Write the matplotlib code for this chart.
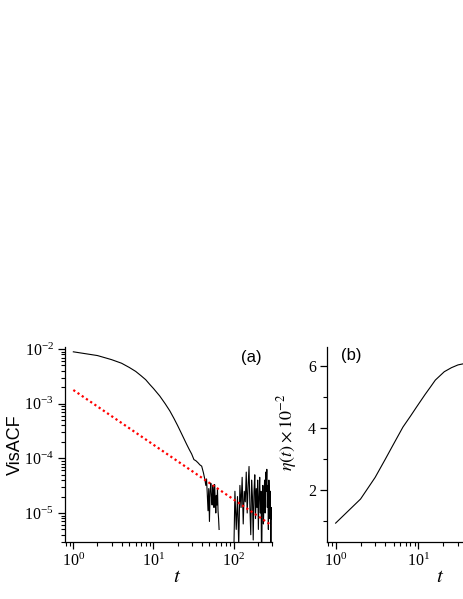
import numpy as np
import matplotlib
matplotlib.use("Agg")
import matplotlib.pyplot as plt
from matplotlib.ticker import LogLocator, FuncFormatter, MultipleLocator, NullFormatter

plt.rcParams['font.family'] = ['Liberation Serif', 'DejaVu Serif']
plt.rcParams['mathtext.fontset'] = 'stix'

# panel (a): VisACF, smooth decay then noise (gap = negative values)
t_acf = [1, 2, 3, 4, 5, 6, 7, 8, 9, 10, 12, 14, 16, 18, 20, 22, 24, 26, 28, 30,
         32, 34, 36, 38, 40, 42, 44,
         45, 46, 47, 48, 49, 50, 51, 52, 53, 54, 55, 56, 57, 58, 59, 60, 61, 62,
         63, 64, 65, 66, 67,
         100, 104, 108, 112, 116, 120, 124, 128, 132, 136, 140, 144, 148, 152,
         156, 160, 164, 168, 172, 176, 180, 184, 188, 192, 196, 200, 204, 208,
         212, 216, 220, 224, 228, 232, 236, 240, 244, 248, 252, 256, 260, 264,
         268, 272, 276, 280, 284, 288, 292, 296, 300]
acf = [8.9e-3, 7.6e-3, 6.4e-3, 5.5e-3, 4.6e-3, 3.9e-3, 3.25e-3, 2.75e-3, 2.25e-3,
       1.9e-3, 1.38e-3, 1.0e-3, 7.4e-4, 5.4e-4, 4.0e-4, 3.0e-4, 2.3e-4, 1.8e-4,
       1.45e-4, 1.2e-4, 9.5e-5, 9.0e-5, 8.3e-5, 7.6e-5, 7.2e-5, 5.5e-5, 4.0e-5,
       3.2e-5, 4.2e-5, 2.2e-5, 1.1e-5, 2.8e-5, 7.0e-6, 2.5e-5, 3.5e-5, 2.0e-5,
       1.4e-5, 3.2e-5, 2.4e-5, 1.26e-5, 3.3e-5, 1.8e-5, 1.0e-5, 2.1e-5, 1.4e-5,
       2.8e-5, 1.1e-5, 7.9e-6, 5.0e-6, np.nan,
       1.0e-6, 2.5e-5, 5.0e-6, 2.0e-5, 2.5e-6, 3.2e-5, 1.26e-5, 4.5e-5, 6.3e-6,
       2.5e-5, 1.6e-5, 5.6e-5, 1.0e-5, 3.2e-5, 7.1e-5, 1.26e-5, 4.0e-6, 4.0e-5,
       2.0e-5, 3.2e-6, 2.5e-5, 5.0e-5, 7.9e-6, 2.8e-5, 1.26e-5, 4.0e-5, 5.0e-6,
       2.0e-5, 4.5e-5, 1.0e-5, 2.5e-5, 1.0e-6, 1.6e-5, 3.2e-5, 6.3e-6, 1.8e-5,
       4.0e-5, 1.0e-5, 5.6e-5, 2.5e-5, 6.3e-5, 1.26e-5, 3.2e-5, 5.0e-6, 4.0e-5,
       2.0e-5, 7.9e-6, 2.5e-5, 1.0e-6, 1.26e-5, 7.9e-6]

# power-law guide (~1/t)
t_fit = [1, 300]
acf_fit = [1.78e-3, 5.9e-6]

# panel (b): eta(t) x 1e-2
t_eta = [1, 2, 3, 4, 4.87, 6.5, 8, 9.5, 12, 14, 16, 20.5, 25, 30, 40, 60, 100, 300]
eta = [0.92, 1.70, 2.40, 3.0, 3.42, 4.03, 4.38, 4.68, 5.08, 5.33, 5.55, 5.82,
       5.95, 6.04, 6.11, 6.17, 6.2, 6.21]

fig = plt.figure(figsize=(4.63, 5.99), dpi=100)
axa = fig.add_axes([0.1404, 0.0952, 0.4471, 0.3255])
axb = fig.add_axes([0.7063, 0.0952, 0.4622, 0.3255])


def dec_fmt(v, pos):
    return r'$\mathdefault{10^{%d}}$' % int(round(np.log10(v)))


for ax in (axa, axb):
    for s in ('top', 'right'):
        ax.spines[s].set_visible(False)
    for s in ('left', 'bottom'):
        ax.spines[s].set_linewidth(0.9)
    ax.set_xscale('log')
    ax.set_xlim(0.787, 302)
    ax.xaxis.set_major_locator(LogLocator(base=10))
    ax.xaxis.set_minor_locator(LogLocator(base=10, subs=np.arange(2, 10)))
    ax.xaxis.set_major_formatter(FuncFormatter(dec_fmt))
    ax.xaxis.set_minor_formatter(NullFormatter())
    ax.tick_params(which='major', direction='out', length=5, width=0.9, labelsize=11.5, pad=3)
    ax.tick_params(which='minor', direction='out', length=3, width=0.8)

axa.plot(t_acf, acf, color='black', lw=0.8)
axa.plot(t_fit, acf_fit, color='red', lw=1.6, linestyle=(0, (1, 1.3)))
axa.set_yscale('log')
axa.set_ylim(2.95e-6, 1.09e-2)
axa.yaxis.set_major_locator(LogLocator(base=10))
axa.yaxis.set_minor_locator(LogLocator(base=10, subs=np.arange(2, 10)))
axa.yaxis.set_major_formatter(FuncFormatter(dec_fmt))
axa.yaxis.set_minor_formatter(NullFormatter())
axa.set_ylabel('VisACF', family='Liberation Sans', fontsize=13)
axa.yaxis.set_label_coords(-0.2, 0.5)
axa.set_xlabel('$t$', fontsize=15)
axa.xaxis.set_label_coords(0.541, -0.135)
axa.text(0.899, 0.944, '(a)', transform=axa.transAxes, ha='center', va='center',
         family='Liberation Sans', fontsize=12)

axb.plot(t_eta, eta, color='black', lw=0.8)
axb.set_ylim(0.31, 6.62)
axb.yaxis.set_major_locator(MultipleLocator(2))
axb.yaxis.set_minor_locator(MultipleLocator(1))
axb.set_ylabel(r'$\eta(t)\times10^{-2}$', fontsize=13)
axb.yaxis.set_label_coords(-0.13, 0.56)
axb.set_xlabel('$t$', fontsize=15)
axb.xaxis.set_label_coords(0.528, -0.135)
axb.text(0.112, 0.954, '(b)', transform=axb.transAxes, ha='center', va='center',
         family='Liberation Sans', fontsize=12)

fig.savefig('out.png', dpi=100)
